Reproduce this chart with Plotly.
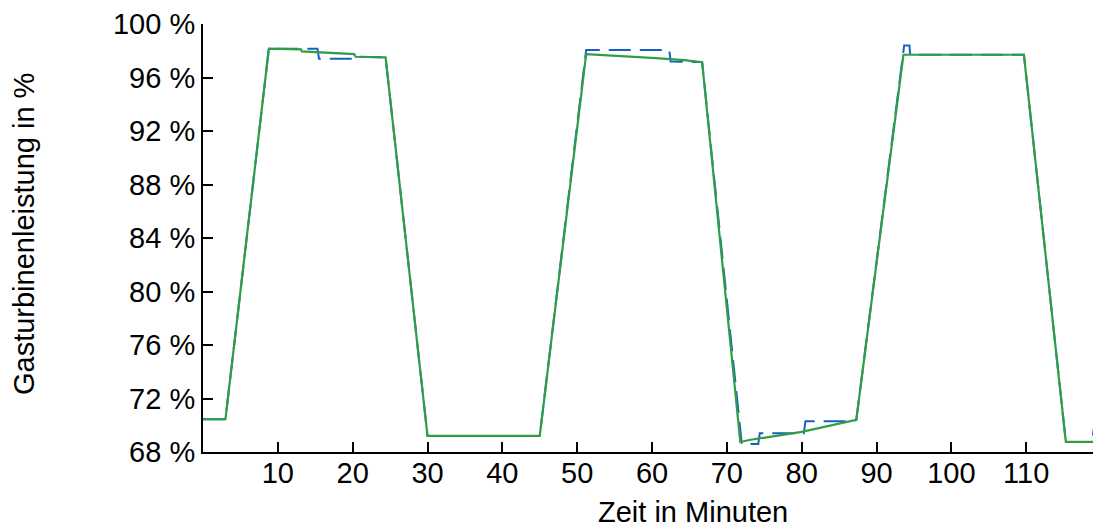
import plotly.graph_objects as go

# Green (Sollwert) series - breakpoints
green_t = [0, 3.0, 8.8, 13.1, 13.2, 20.2, 20.4, 24.4, 30.0, 45.0, 51.2, 53.0, 57.0, 60.5, 64.3, 66.7,
           71.8, 73.0, 80.0, 87.3, 93.6, 109.7, 115.3, 120]
green_v = [70.45, 70.45, 98.15, 98.1, 97.95, 97.75, 97.55, 97.5, 69.2, 69.2, 97.75, 97.7, 97.6, 97.45, 97.3, 97.15,
           68.75, 68.9, 69.5, 70.4, 97.7, 97.7, 68.75, 68.75]

# Blue (Istwert) series
blue_t = [0, 3.0, 8.8, 15.3, 15.5, 20.7, 21.0, 24.4, 30.0, 45.0, 51.2, 62.3, 62.5, 66.7,
          72.0, 72.5, 74.2, 74.4, 80.3, 80.5, 86.8, 87.3, 93.6, 93.7, 94.4, 94.5, 109.7, 115.3, 118.8, 119.0, 120]
blue_v = [70.45, 70.45, 98.15, 98.15, 97.4, 97.4, 97.55, 97.5, 69.2, 69.2, 98.05, 98.05, 97.2, 97.15,
          68.6, 68.6, 68.6, 69.4, 69.4, 70.3, 70.3, 70.4, 97.7, 98.4, 98.4, 97.7, 97.7, 68.75, 68.75, 69.6, 69.6]

y_ticks = [68, 72, 76, 80, 84, 88, 92, 96, 100]
y_labels = [f"{v} %" for v in y_ticks]
x_ticks = [10, 20, 30, 40, 50, 60, 70, 80, 90, 100, 110]

FONT = "Liberation Sans, Arial, sans-serif"

# page body has an 8px margin -> figure is offset by 8px
OFF = 8
W, H = 1101 - OFF, 530 - OFF
L, T, B = 203 - OFF, 20 - OFF, 78

fig = go.Figure()
fig.add_trace(go.Scatter(x=blue_t, y=blue_v, mode="lines",
                         line=dict(color="#1b5fc1", width=2, dash="22px,9px"),
                         showlegend=False))
fig.add_trace(go.Scatter(x=green_t, y=green_v, mode="lines",
                         line=dict(color="#2e9e45", width=2.2),
                         showlegend=False))

pw, ph = W - L, H - T - B


def px_to_paper(x, y):
    return (x - OFF - L) / pw, (H - B - (y - OFF)) / ph


xt, yt = px_to_paper(693, 513)
xy, yy = px_to_paper(24, 232)

fig.update_layout(
    width=W, height=H,
    margin=dict(l=L, r=0, t=T, b=B),
    paper_bgcolor="white", plot_bgcolor="white",
    font=dict(family=FONT, size=29, color="black"),
    xaxis=dict(range=[0, 120], tickvals=x_ticks, ticks="inside", ticklen=10, tickwidth=2,
               tickcolor="black", showline=True, linecolor="black", linewidth=2,
               showgrid=False, zeroline=False, tickfont=dict(size=29),
               ticklabeloverflow="allow", ticklabelstandoff=-6),
    yaxis=dict(range=[68, 100], tickvals=y_ticks, ticktext=y_labels, ticks="inside", ticklen=10,
               tickwidth=2, tickcolor="black", showline=True, linecolor="black", linewidth=2,
               showgrid=False, zeroline=False, tickfont=dict(size=29),
               ticklabeloverflow="allow"),
    annotations=[
        dict(text="Zeit in Minuten", x=xt, y=yt, xref="paper", yref="paper", showarrow=False,
             xanchor="center", yanchor="middle", font=dict(size=29)),
        dict(text="Gasturbinenleistung in %", x=xy, y=yy, xref="paper", yref="paper",
             textangle=-90, showarrow=False, xanchor="center", yanchor="middle",
             font=dict(size=29)),
    ],
)

fig.write_html("out.html")
